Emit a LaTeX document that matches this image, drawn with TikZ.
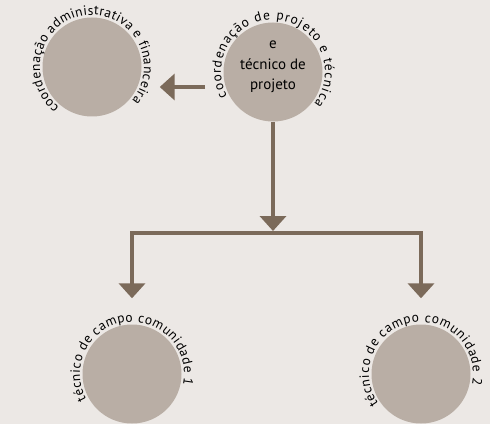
\documentclass[tikz,border=0pt]{standalone}
\usepackage{fontspec}
\setmainfont{PT Sans}
\usetikzlibrary{arrows.meta, decorations.text}
\definecolor{paper}{HTML}{ECE8E5}
\definecolor{disc}{HTML}{B9AEA5}
\definecolor{brown1}{HTML}{7B6A5A}
\tikzset{
  Disc1/.style = {
    circle, fill = disc, inner sep = 0pt,
    minimum size = 99pt,
  },
  Arrow1/.style = {
    draw = brown1, line width = 4pt,
    -{Triangle[length = 15pt, width = 26pt]},
  },
  Ring1/.style = {
    decorate,
    decoration = {text along path, text = {#1}, text align = fit to path},
  }
}

\begin{document}
\begin{tikzpicture}[x=1pt, y=1pt]
  \fontsize{13.5}{16}\selectfont
  \fill[paper] (0,0) rectangle (490,424);
  \useasboundingbox (0,0) rectangle (490,424);

  \node[Disc1] (adm) at (92,357) {};
  \node[Disc1] (proj) at (273,352) {};
  \node[Disc1] (com1) at (132,50) {};
  \node[Disc1] (com2) at (421,50) {};
  \node[align=center, font=\fontsize{15}{20.5}\selectfont] (projtxt) at (273,357) {e\\técnico de\\projeto};

  % texts round the discs
  \path[Ring1 = coordenação administrativa e financeira]
    ([shift={(231:52)}]adm.center) arc[start angle=231, end angle=-40, radius=52];
  \path[Ring1 = coordenação de projeto e técnica]
    ([shift={(208:52)}]proj.center) arc[start angle=208, end angle=-38, radius=52];
  \path[Ring1 = técnico de campo comunidade 1]
    ([shift={(209:52)}]com1.center) arc[start angle=209, end angle=-12, radius=52];
  \path[Ring1 = técnico de campo comunidade 2]
    ([shift={(215:52)}]com2.center) arc[start angle=215, end angle=-12, radius=52];

  % connectors
  \coordinate (split) at (273,191);
  \coordinate (left) at (205,337);
  \draw[Arrow1] (left) -- ([xshift=18pt]adm.east |- left);
  \draw[Arrow1] (proj.south) -- ([yshift=2pt]split);
  \draw[Arrow1] (split) -| ([yshift=26pt]com1.north);
  \draw[Arrow1] (split) -| ([yshift=26pt]com2.north);
\end{tikzpicture}
\end{document}
